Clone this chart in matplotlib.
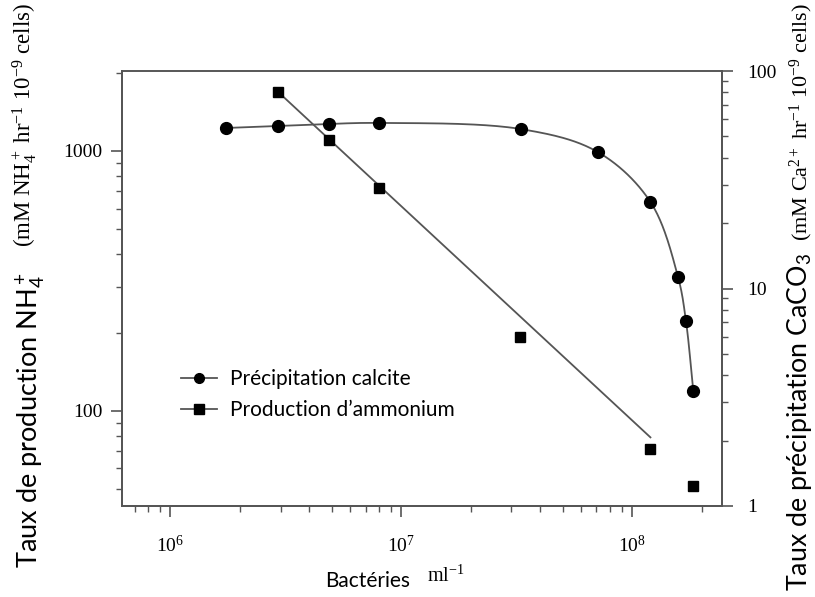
import numpy as np
import matplotlib as mpl

mpl.use('Agg')
import matplotlib.pyplot as plt
from matplotlib import ticker
from matplotlib.lines import Line2D

# calcite precipitation (circles, right axis)
calcite_x = [1.74e6, 2.92e6, 4.85e6, 8.0e6, 3.29e7, 7.1e7, 1.20e8, 1.58e8, 1.71e8, 1.84e8]
calcite_y = [54.7, 55.9, 57.1, 57.7, 54.1, 42.4, 25.0, 11.3, 7.1, 3.38]

# ammonium production (squares, left axis)
ammonium_x = [2.92e6, 4.85e6, 8.0e6, 3.26e7, 1.19e8, 1.84e8]
ammonium_y = [1690, 1100, 720, 193, 71.4, 51.5]

# straight fit drawn over the ammonium points
fit_x = [2.92e6, 1.20e8]
fit_y = [1690, 79]

left_ticks = [100, 1000]
right_ticks = [1, 10, 100]
x_ticks = [1e6, 1e7, 1e8]
x_ticklabels = ['$\\mathregular{10^{6}}$', '$\\mathregular{10^{7}}$', '$\\mathregular{10^{8}}$']

legend_labels = ['Précipitation calcite', 'Production d\u2019ammonium']

SANS = 'Lato'
SERIF = 'Liberation Serif'
LINE = '#555555'

plt.rcParams['font.family'] = SERIF
plt.rcParams['mathtext.fontset'] = 'stix'


def smooth_curve(xs, ys, n=40):
    # centripetal catmull-rom in log-log space (scaled roughly to pixels)
    p = np.column_stack([np.log10(xs) * 231, np.log10(ys) * 217.5])
    p = np.vstack([2 * p[0] - p[1], p, 2 * p[-1] - p[-2]])
    out = []
    for i in range(1, len(p) - 2):
        p0, p1, p2, p3 = p[i - 1], p[i], p[i + 1], p[i + 2]
        t0 = 0.0
        t1 = t0 + np.linalg.norm(p1 - p0) ** 0.5
        t2 = t1 + np.linalg.norm(p2 - p1) ** 0.5
        t3 = t2 + np.linalg.norm(p3 - p2) ** 0.5
        t = np.linspace(t1, t2, n)[:, None]
        a1 = (t1 - t) / (t1 - t0) * p0 + (t - t0) / (t1 - t0) * p1
        a2 = (t2 - t) / (t2 - t1) * p1 + (t - t1) / (t2 - t1) * p2
        a3 = (t3 - t) / (t3 - t2) * p2 + (t - t2) / (t3 - t2) * p3
        b1 = (t2 - t) / (t2 - t0) * a1 + (t - t0) / (t2 - t0) * a2
        b2 = (t3 - t) / (t3 - t1) * a2 + (t - t1) / (t3 - t1) * a3
        out.append((t2 - t) / (t2 - t1) * b1 + (t - t1) / (t2 - t1) * b2)
    c = np.vstack(out)
    return 10 ** (c[:, 0] / 231), 10 ** (c[:, 1] / 217.5)


fig = plt.figure(figsize=(8.15, 5.97), dpi=100)
ax = fig.add_axes([122 / 815, 1 - 506 / 597, 600 / 815, 435 / 597])
ax2 = ax.twinx()

for a in (ax, ax2):
    a.set_xscale('log')
    a.set_yscale('log')
    a.patch.set_visible(False)
    for s in a.spines.values():
        s.set_color(LINE)
        s.set_linewidth(1.3)
ax.spines['top'].set_color('#8a8a8a')

ax.set_xlim(6.17e5, 2.45e8)
ax.set_ylim(43, 2030)
ax2.set_ylim(1, 100)

# ammonium: squares + fit line
ax.plot(fit_x, fit_y, '-', color=LINE, lw=1.3, zorder=2)
ax.plot(ammonium_x, ammonium_y, 's', color='black', ms=7.5, zorder=3)

# calcite: smooth curve + circles
cx, cy = smooth_curve(calcite_x, calcite_y)
ax2.plot(cx, cy, '-', color=LINE, lw=1.3, zorder=2)
ax2.plot(calcite_x, calcite_y, 'o', color='black', ms=8.5, zorder=3)

# ticks
ax.xaxis.set_major_locator(ticker.FixedLocator(x_ticks))
ax.xaxis.set_major_formatter(ticker.FixedFormatter(x_ticklabels))
ax.xaxis.set_minor_locator(ticker.LogLocator(base=10, subs=np.arange(2, 10)))
ax.xaxis.set_minor_formatter(ticker.NullFormatter())

ax.yaxis.set_major_locator(ticker.FixedLocator(left_ticks))
ax.yaxis.set_major_formatter(ticker.FuncFormatter(lambda v, p: '%d' % v))
ax.yaxis.set_minor_locator(ticker.LogLocator(base=10, subs=np.arange(2, 10)))
ax.yaxis.set_minor_formatter(ticker.NullFormatter())

ax2.yaxis.set_major_locator(ticker.FixedLocator(right_ticks))
ax2.yaxis.set_major_formatter(ticker.FuncFormatter(lambda v, p: '%d' % v))
ax2.yaxis.set_minor_locator(ticker.LogLocator(base=10, subs=np.arange(2, 10)))
ax2.yaxis.set_minor_formatter(ticker.NullFormatter())

ax.tick_params(axis='x', which='major', direction='out', length=8, width=1.2, color=LINE, pad=13, labelsize=14)
ax.tick_params(axis='x', which='minor', direction='out', length=4.5, width=1.0, color=LINE)
ax.tick_params(axis='y', which='major', direction='out', length=8, width=1.2, color=LINE, pad=6, labelsize=14)
ax.tick_params(axis='y', which='minor', direction='out', length=4.5, width=1.0, color=LINE)
ax2.tick_params(axis='y', which='major', direction='out', length=8, width=1.2, color=LINE, pad=10, labelsize=14)
ax2.tick_params(axis='y', which='minor', direction='out', length=4.5, width=1.0, color=LINE)

# legend
handles = [
    Line2D([], [], color=LINE, lw=1.3, marker='o', mfc='black', mec='black', ms=7),
    Line2D([], [], color=LINE, lw=1.3, marker='s', mfc='black', mec='black', ms=6.5),
]
fig.legend(handles, legend_labels, loc='upper left', bbox_to_anchor=(181 / 815, 1 - 369 / 597),
           frameon=False, prop={'family': SANS, 'size': 15}, handlelength=1.75,
           handletextpad=0.6, labelspacing=0.55, borderpad=0, borderaxespad=0)

# axis labels (sans part + serif unit part)
fig.text(31 / 815, 1 - 420 / 597, 'Taux de production $\\mathregular{NH_4^+}$', rotation=90,
         ha='center', va='center', family=SANS, size=19.5)
fig.text(25 / 815, 1 - 125 / 597,
         '(mM $\\mathregular{NH_4^+}$ $\\mathregular{hr^{-1}}$ $\\mathregular{10^{-9}}$ cells)',
         rotation=90, ha='center', va='center', family=SERIF, size=16.5)
fig.text(800 / 815, 1 - 422 / 597, 'Taux de précipitation $\\mathregular{CaCO_3}$', rotation=90,
         ha='center', va='center', family=SANS, size=19.3)
fig.text(801 / 815, 1 - 122 / 597,
         '(mM $\\mathregular{Ca^{2+}}$ $\\mathregular{hr^{-1}}$ $\\mathregular{10^{-9}}$ cells)',
         rotation=90, ha='center', va='center', family=SERIF, size=16)
fig.text(368 / 815, 1 - 581 / 597, 'Bactéries', ha='center', va='center', family=SANS, size=15)
fig.text(446 / 815, 1 - 576 / 597, '$\\mathregular{ml^{-1}}$', ha='center', va='center', family=SERIF, size=14.5)

fig.savefig('out.png', dpi=100)
